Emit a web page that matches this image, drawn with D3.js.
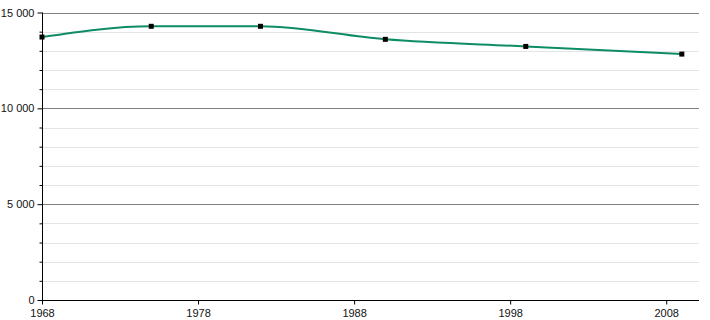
<!DOCTYPE html>
<html lang="fr">
<head>
<meta charset="UTF-8">
<title>Population</title>
<script src="https://d3js.org/d3.v7.min.js"></script>
<style>
  body { margin: 0; background: #fff; }
  text { font-family: "Liberation Sans", Arial, sans-serif; font-size: 11px; fill: #111; }
</style>
</head>
<body>
<script>
const years = [1968, 1975, 1982, 1990, 1999, 2009];
const population = [13720, 14280, 14280, 13600, 13230, 12830];
const xTickYears = [1968, 1978, 1988, 1998, 2008];
const majorTicks = [0, 5000, 10000, 15000];

const w = 710, h = 320;
const margin = {left: 42, right: 11, top: 12.5, bottom: 20};

const svg = d3.select("body").append("svg")
    .attr("width", w)
    .attr("height", h);

const x = d3.scaleLinear()
    .domain([1968, 2010.1])
    .range([margin.left, w - margin.right]);

const y = d3.scaleLinear()
    .domain([0, 15000])
    .range([h - margin.bottom, margin.top]);

const fmtSp = v => d3.format(",")(v).replace(/,/g, " ");

// minor grid
svg.append("g")
    .selectAll("line")
    .data(d3.range(1000, 15000, 1000).filter(v => v % 5000 !== 0))
    .join("line")
    .attr("x1", margin.left).attr("x2", w - margin.right)
    .attr("y1", d => Math.round(y(d)) + 0.5).attr("y2", d => Math.round(y(d)) + 0.5)
    .attr("stroke", "#e4e4e4");

// major grid
svg.append("g")
    .selectAll("line")
    .data(majorTicks.slice(1))
    .join("line")
    .attr("x1", margin.left).attr("x2", w - margin.right)
    .attr("y1", d => Math.round(y(d)) + 0.5).attr("y2", d => Math.round(y(d)) + 0.5)
    .attr("stroke", "#808080");

// y axis minor ticks
const yMinor = d3.axisLeft(y)
    .tickValues(d3.range(0, 15001, 1000).filter(v => v % 5000 !== 0))
    .tickSize(3)
    .tickFormat("");
svg.append("g")
    .attr("transform", `translate(${margin.left + 0.5},0)`)
    .call(yMinor)
    .call(g => g.select(".domain").remove())
    .call(g => g.selectAll("line").attr("stroke", "#000"));

// y axis major
const yAxis = d3.axisLeft(y)
    .tickValues(majorTicks)
    .tickSize(5)
    .tickPadding(3)
    .tickFormat(fmtSp);
svg.append("g")
    .attr("transform", `translate(${margin.left + 0.5},0)`)
    .call(yAxis)
    .call(g => g.select(".domain").attr("d", `M0,${y(15000)}V${y(0)}`).attr("stroke", "#000"))
    .call(g => g.selectAll("text").attr("font-size", null).attr("font-family", null).attr("fill", "#111"));

// x axis
const xAxis = d3.axisBottom(x)
    .tickValues(xTickYears)
    .tickSize(4)
    .tickPadding(5)
    .tickFormat(d3.format("d"));
svg.append("g")
    .attr("transform", `translate(0,${Math.round(y(0)) + 0.5})`)
    .call(xAxis)
    .call(g => g.select(".domain").attr("d", `M${margin.left},0H${w - margin.right}`).attr("stroke", "#000"))
    .call(g => g.selectAll("text").attr("font-size", null).attr("font-family", null).attr("fill", "#111"));

// line
const data = years.map((yr, i) => [yr, population[i]]);
const line = d3.line()
    .x(d => x(d[0]))
    .y(d => y(d[1]))
    .curve(d3.curveMonotoneX);

svg.append("path")
    .datum(data)
    .attr("fill", "none")
    .attr("stroke", "#0e8c66")
    .attr("stroke-width", 2)
    .attr("d", line);

svg.append("g")
    .selectAll("rect")
    .data(data)
    .join("rect")
    .attr("x", d => x(d[0]) - 2.5)
    .attr("y", d => y(d[1]) - 2.5)
    .attr("width", 5)
    .attr("height", 5)
    .attr("fill", "#000");
</script>
</body>
</html>
